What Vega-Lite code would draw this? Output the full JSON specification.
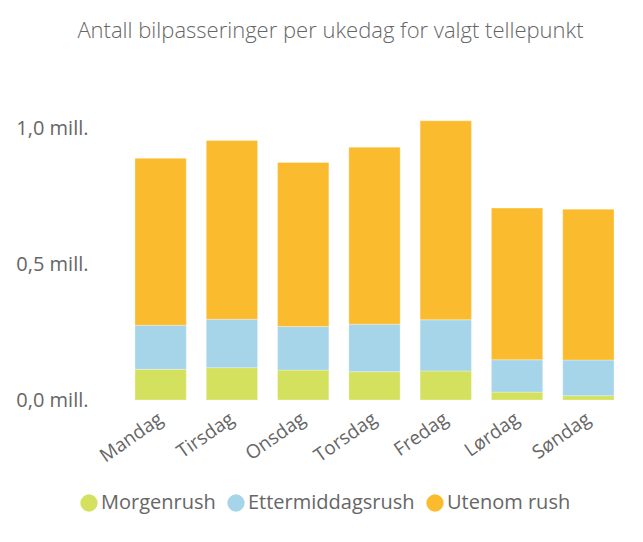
{
  "$schema": "https://vega.github.io/schema/vega-lite/v6.json",
  "autosize": "none",
  "width": 499,
  "height": 299,
  "padding": {"left": 125, "top": 101, "right": 19, "bottom": 142},
  "background": "#ffffff",
  "config": {
    "view": {"stroke": null},
    "font": "Open Sans"
  },
  "title": {
    "text": "Antall bilpasseringer per ukedag for valgt tellepunkt",
    "font": "Open Sans",
    "fontSize": 22,
    "fontWeight": 300,
    "color": "#666666",
    "anchor": "middle",
    "dx": -44,
    "offset": 58
  },
  "data": {
    "values": [
      {"dag": "Mandag", "type": "Morgenrush", "ord": 1, "verdi": 0.113},
      {"dag": "Mandag", "type": "Ettermiddagsrush", "ord": 2, "verdi": 0.162},
      {"dag": "Mandag", "type": "Utenom rush", "ord": 3, "verdi": 0.614},
      {"dag": "Tirsdag", "type": "Morgenrush", "ord": 1, "verdi": 0.119},
      {"dag": "Tirsdag", "type": "Ettermiddagsrush", "ord": 2, "verdi": 0.178},
      {"dag": "Tirsdag", "type": "Utenom rush", "ord": 3, "verdi": 0.658},
      {"dag": "Onsdag", "type": "Morgenrush", "ord": 1, "verdi": 0.110},
      {"dag": "Onsdag", "type": "Ettermiddagsrush", "ord": 2, "verdi": 0.160},
      {"dag": "Onsdag", "type": "Utenom rush", "ord": 3, "verdi": 0.604},
      {"dag": "Torsdag", "type": "Morgenrush", "ord": 1, "verdi": 0.104},
      {"dag": "Torsdag", "type": "Ettermiddagsrush", "ord": 2, "verdi": 0.175},
      {"dag": "Torsdag", "type": "Utenom rush", "ord": 3, "verdi": 0.651},
      {"dag": "Fredag", "type": "Morgenrush", "ord": 1, "verdi": 0.107},
      {"dag": "Fredag", "type": "Ettermiddagsrush", "ord": 2, "verdi": 0.188},
      {"dag": "Fredag", "type": "Utenom rush", "ord": 3, "verdi": 0.732},
      {"dag": "Lørdag", "type": "Morgenrush", "ord": 1, "verdi": 0.029},
      {"dag": "Lørdag", "type": "Ettermiddagsrush", "ord": 2, "verdi": 0.119},
      {"dag": "Lørdag", "type": "Utenom rush", "ord": 3, "verdi": 0.558},
      {"dag": "Søndag", "type": "Morgenrush", "ord": 1, "verdi": 0.016},
      {"dag": "Søndag", "type": "Ettermiddagsrush", "ord": 2, "verdi": 0.131},
      {"dag": "Søndag", "type": "Utenom rush", "ord": 3, "verdi": 0.555}
    ]
  },
  "mark": {"type": "bar", "stroke": "#ffffff", "strokeWidth": 0.5, "strokeOpacity": 0.6},
  "encoding": {
    "x": {
      "field": "dag",
      "type": "nominal",
      "sort": ["Mandag", "Tirsdag", "Onsdag", "Torsdag", "Fredag", "Lørdag", "Søndag"],
      "scale": {"paddingInner": 0.28, "paddingOuter": 0.14},
      "axis": {
        "title": null,
        "labelAngle": -35,
        "labelAlign": "right",
        "labelBaseline": "top",
        "labelFontSize": 19,
        "labelColor": "#666666",
        "labelPadding": 9,
        "labelOffset": -5,
        "domain": false,
        "ticks": false
      }
    },
    "y": {
      "field": "verdi",
      "type": "quantitative",
      "stack": "zero",
      "scale": {"domain": [0, 1.1], "nice": false},
      "axis": {
        "title": null,
        "values": [0, 0.5, 1.0],
        "labelExpr": "replace(format(datum.value, '.1f'), '.', ',') + ' mill.'",
        "labelFontSize": 20,
        "labelColor": "#666666",
        "labelPadding": 37,
        "domain": false,
        "ticks": false,
        "grid": false
      }
    },
    "color": {
      "field": "type",
      "type": "nominal",
      "sort": ["Morgenrush", "Ettermiddagsrush", "Utenom rush"],
      "scale": {
        "domain": ["Morgenrush", "Ettermiddagsrush", "Utenom rush"],
        "range": ["#d4e15f", "#a6d5ea", "#fbbb2e"]
      },
      "legend": {
        "title": null,
        "orient": "none",
        "direction": "horizontal",
        "legendX": -46,
        "legendY": 392,
        "symbolType": "circle",
        "symbolSize": 300,
        "symbolStrokeWidth": 0,
        "labelFontSize": 20,
        "labelLimit": 400,
        "labelColor": "#666666",
        "labelOffset": 2,
        "columnPadding": 10
      }
    },
    "order": {"field": "ord", "type": "quantitative"}
  }
}
